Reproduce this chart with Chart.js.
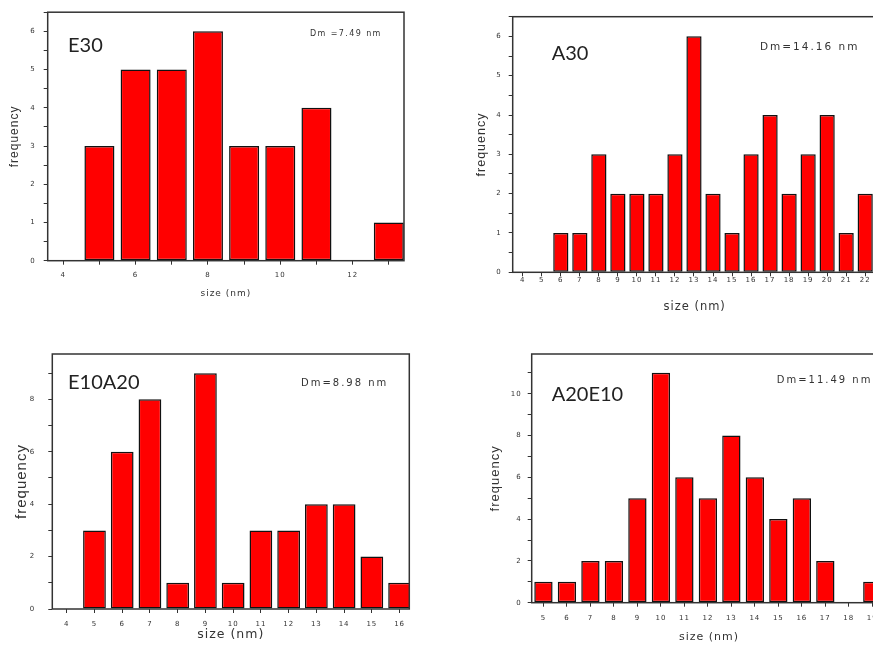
<!DOCTYPE html>
<html>
<head>
<meta charset="utf-8">
<script src="https://cdn.jsdelivr.net/npm/chart.js@4.4.1/dist/chart.umd.min.js"></script>
<style>
  html, body { margin: 0; padding: 0; background: #fff; width: 873px; height: 654px; overflow: hidden; }
  canvas { position: absolute; }
</style>
</head>
<body>
<canvas id="e30"></canvas>
<canvas id="a30"></canvas>
<canvas id="e10a20"></canvas>
<canvas id="a20e10"></canvas>
<script>
// size distributions
var e30Sizes = [4, 5, 6, 7, 8, 9, 10, 11, 12, 13];
var e30Freq  = [0, 3, 5, 5, 6, 3, 3, 4, 0, 1];

var a30Sizes = [4, 5, 6, 7, 8, 9, 10, 11, 12, 13, 14, 15, 16, 17, 18, 19, 20, 21, 22];
var a30Freq  = [0, 0, 1, 1, 3, 2, 2, 2, 3, 6, 2, 1, 3, 4, 2, 3, 4, 1, 2];

var e10a20Sizes = [4, 5, 6, 7, 8, 9, 10, 11, 12, 13, 14, 15, 16];
var e10a20Freq  = [0, 3, 6, 8, 1, 9, 1, 3, 3, 4, 4, 2, 1];

var a20e10Sizes = [5, 6, 7, 8, 9, 10, 11, 12, 13, 14, 15, 16, 17, 18, 19];
var a20e10Freq  = [1, 1, 2, 2, 5, 11, 6, 5, 8, 6, 4, 5, 2, 0, 1];

var sampleNames = ['E30', 'A30', 'E10A20', 'A20E10'];
var meanDiameters = ['Dm =7.49 nm', 'Dm=14.16 nm', 'Dm=8.98 nm', 'Dm=11.49 nm'];

// box around the plot area + sample name + Dm label
var framePlugin = {
  id: 'frame',
  beforeDraw: function(chart, args, o) {
    chart.ctx.letterSpacing = o.spacing;
  },
  afterDatasetsDraw: function(chart, args, o) {
    var ctx = chart.ctx, a = chart.chartArea;
    ctx.save();
    ctx.strokeStyle = '#333';
    ctx.lineWidth = 1.5;
    ctx.strokeRect(a.left, a.top, a.right - a.left, a.bottom - a.top);
    ctx.textBaseline = 'middle';
    ctx.textAlign = 'left';
    ctx.fillStyle = '#222';
    ctx.letterSpacing = '0px';
    ctx.font = '20px Lato';
    ctx.fillText(o.name, o.nameX, o.nameY);
    ctx.fillStyle = '#333';
    ctx.letterSpacing = o.dmSpacing;
    ctx.font = o.dmSize + 'px "DejaVu Sans"';
    ctx.fillText(o.dm, o.dmX, o.dmY);
    ctx.restore();
  }
};

function panel(id, sizes, freq, c) {
  var el = document.getElementById(id);
  var b = c.box, a = c.area;
  el.width = b[2];
  el.height = b[3];
  el.style.left = b[0] + 'px';
  el.style.top = b[1] + 'px';
  var yW = a[0] - b[0];
  var xH = b[1] + b[3] - a[3];
  var yLh = c.yTitleSize * 1.2, xLh = c.xTitleSize * 1.2;

  return new Chart(el, {
    type: 'bar',
    data: {
      datasets: [{
        data: sizes.map(function(s, i) { return { x: s, y: freq[i] }; }),
        backgroundColor: '#ff0000',
        borderColor: '#111',
        borderWidth: 1.5,
        borderSkipped: false,
        barPercentage: c.barPct,
        categoryPercentage: 1
      }]
    },
    options: {
      responsive: false,
      animation: false,
      layout: { padding: { left: 0, top: a[1] - b[1], right: b[0] + b[2] - a[2], bottom: 0 } },
      plugins: {
        legend: { display: false },
        tooltip: { enabled: false },
        frame: {
          spacing: '1px',
          name: c.name, nameX: c.nameAt[0] - b[0], nameY: c.nameAt[1] - b[1],
          dm: c.dm, dmX: c.dmAt[0] - b[0], dmY: c.dmAt[1] - b[1],
          dmSize: c.dmSize, dmSpacing: c.dmSpacing
        }
      },
      scales: {
        x: {
          type: 'linear',
          offset: false,
          min: c.xMin,
          max: c.xMax,
          afterFit: function(s) { s.height = xH; },
          ticks: {
            stepSize: 1,
            includeBounds: false,
            autoSkip: false,
            maxRotation: 0,
            padding: c.xPad,
            color: '#333',
            font: { family: 'DejaVu Sans', size: 7 },
            callback: function(v) { return v % c.xEvery === 0 ? v : ''; }
          },
          grid: { offset: false, drawOnChartArea: false, tickLength: 4, color: '#333' },
          border: { display: false },
          title: {
            display: true,
            text: 'size (nm)',
            color: '#333',
            font: { family: 'DejaVu Sans', size: c.xTitleSize, lineHeight: 1.2 },
            padding: { top: 0, bottom: (b[1] + b[3] - c.xTitleY) - xLh / 2 }
          }
        },
        y: {
          min: 0,
          max: c.yMax,
          afterFit: function(s) { s.width = yW; },
          ticks: {
            stepSize: c.yStep,
            includeBounds: false,
            padding: c.yPad,
            color: '#333',
            font: { family: 'DejaVu Sans', size: 7 },
            callback: function(v) { return v % c.yEvery === 0 ? v : ''; }
          },
          grid: { drawOnChartArea: false, tickLength: 4, color: '#333' },
          border: { display: false },
          title: {
            display: true,
            text: 'frequency',
            color: '#333',
            font: { family: 'Liberation Sans', size: c.yTitleSize, lineHeight: 1.2 },
            padding: { top: (c.yTitleX - b[0]) - yLh / 2, bottom: 0 }
          }
        }
      }
    },
    plugins: [framePlugin]
  });
}

panel('e30', e30Sizes, e30Freq, {
  box: [0, 0, 420, 320], area: [47.7, 8, 404, 260.7],
  xMin: 3.57, xMax: 13.42, xEvery: 2, xPad: 6, xTitleSize: 9, xTitleY: 294,
  yMax: 6.5, yStep: 0.5, yEvery: 1, yPad: 8, yTitleSize: 12, yTitleX: 15,
  barPct: 0.83,
  name: sampleNames[0], nameAt: [68, 46], dm: meanDiameters[0], dmAt: [310, 34], dmSize: 8, dmSpacing: '1.4px'
});

panel('a30', a30Sizes, a30Freq, {
  box: [440, 0, 440, 330], area: [512.7, 16.7, 876.6, 272.3],
  xMin: 3.47, xMax: 22.6, xEvery: 1, xPad: 0, xTitleSize: 11.5, xTitleY: 307,
  yMax: 6.5, yStep: 0.5, yEvery: 1, yPad: 7, yTitleSize: 12.5, yTitleX: 481.7,
  barPct: 0.8,
  name: sampleNames[1], nameAt: [551.7, 54], dm: meanDiameters[1], dmAt: [760, 47], dmSize: 10.5, dmSpacing: '2px'
});

panel('e10a20', e10a20Sizes, e10a20Freq, {
  box: [0, 330, 420, 324], area: [52.3, 354, 409.3, 609],
  xMin: 3.48, xMax: 16.35, xEvery: 1, xPad: 7, xTitleSize: 12.5, xTitleY: 635,
  yMax: 9.73, yStep: 1, yEvery: 2, yPad: 13, yTitleSize: 15, yTitleX: 22,
  barPct: 0.82,
  name: sampleNames[2], nameAt: [68, 383], dm: meanDiameters[2], dmAt: [301, 383.3], dmSize: 10, dmSpacing: '2px'
});

panel('a20e10', a20e10Sizes, a20e10Freq, {
  box: [440, 330, 450, 324], area: [531.7, 354, 886.4, 602.7],
  xMin: 4.5, xMax: 19.6, xEvery: 1, xPad: 7, xTitleSize: 11, xTitleY: 636.7,
  yMax: 11.9, yStep: 1, yEvery: 2, yPad: 6, yTitleSize: 13, yTitleX: 495,
  barPct: 0.78,
  name: sampleNames[3], nameAt: [551.7, 395], dm: meanDiameters[3], dmAt: [776.7, 380], dmSize: 10, dmSpacing: '2px'
});
</script>
</body>
</html>
